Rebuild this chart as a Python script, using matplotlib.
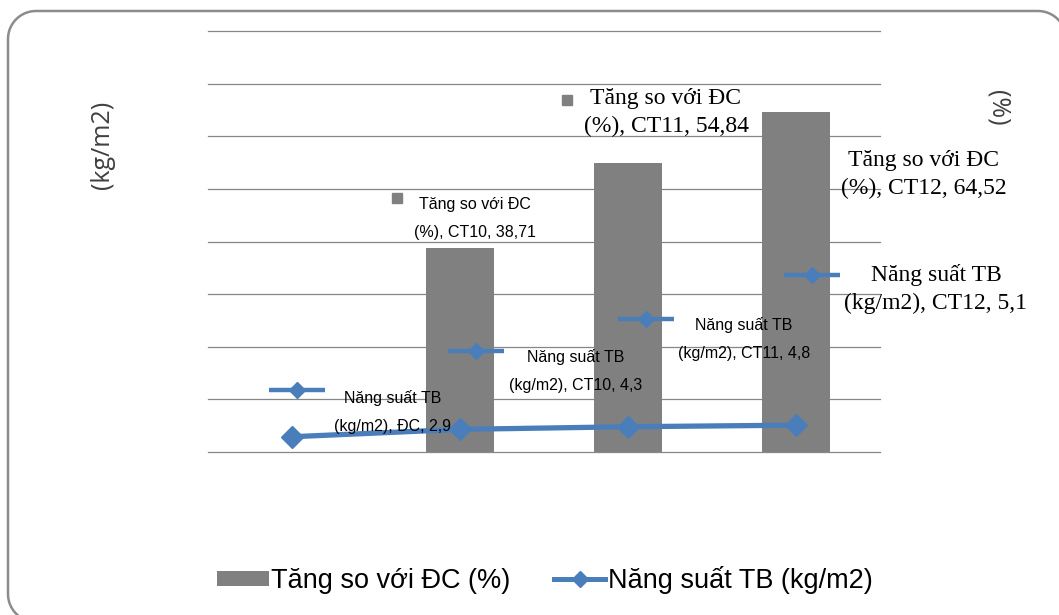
import numpy as np
import matplotlib
matplotlib.use("Agg")
import matplotlib.pyplot as plt
from matplotlib.patches import Patch, PathPatch
from matplotlib.path import Path
from matplotlib.lines import Line2D
from matplotlib.transforms import offset_copy, IdentityTransform

# data
categories = ['ĐC', 'CT10', 'CT11', 'CT12']
tang_so_voi_dc = [0, 38.71, 54.84, 64.52]      # %
nang_suat_tb = [2.9, 4.3, 4.8, 5.1]            # kg/m2
bar_name = 'Tăng so với ĐC (%)'
line_name = 'Năng suất TB (kg/m2)'

BAR_C = '#808080'
LINE_C = '#4A7EBB'
GRID_C = '#878787'

W, H = 1059, 615
fig = plt.figure(figsize=(W / 100, H / 100), dpi=100)
ax = fig.add_axes([208 / W, 163 / H, 672 / W, 421 / H])

x = np.arange(len(categories))
bars = ax.bar(x[1:], tang_so_voi_dc[1:], width=0.4, color=BAR_C, zorder=2)
ax.plot(x, nang_suat_tb, color=LINE_C, lw=3.8, marker='D', ms=11.5,
        mfc=LINE_C, mec=LINE_C, zorder=4, solid_capstyle='round')

ax.set_xlim(-0.5, 3.5)
ax.set_ylim(0, 80)
ax.set_yticks(np.arange(0, 81, 10))
ax.grid(axis='y', color=GRID_C, lw=0.9)
for gl in ax.get_ygridlines():
    gl.set_clip_on(False)
ax.set_axisbelow(True)
ax.tick_params(left=False, bottom=False, labelleft=False, labelbottom=False)
for s in ax.spines.values():
    s.set_visible(False)

def fmt(v):
    return ('%g' % v).replace('.', ',')

SANS = 'Liberation Sans'
SERIF = 'Liberation Serif'

# label layout: (key dx, key dy, text dx, text dy, font) in pixels from the point
bar_lbl = {1: (-63, 50, 15, 30, SANS), 2: (-61, 63, 38, 51, SERIF), 3: (8, -50, 128, -62, SERIF)}
line_lbl = {0: (5, 47, 101, 25, SANS), 1: (16, 78, 116, 58, SANS),
            2: (18, 108, 116, 88, SANS), 3: (16, 150, 140, 136, SERIF)}

for i, (kdx, kdy, tdx, tdy, fam) in bar_lbl.items():
    v = tang_so_voi_dc[i]
    tr = offset_copy(ax.transData, fig, x=kdx, y=kdy, units='dots')
    ax.plot([x[i]], [v], transform=tr, marker='s', ms=7.5, color=BAR_C, zorder=5, clip_on=False)
    big = fam == SERIF
    ax.annotate('Tăng so với ĐC\n(%%), %s, %s' % (categories[i], fmt(v)), (x[i], v),
                xytext=(tdx, tdy), textcoords='offset pixels', ha='center', va='center',
                fontsize=17 if big else 11.5, family=fam, linespacing=1.45 if big else 2.1,
                color='black', zorder=6, annotation_clip=False)

for i, (kdx, kdy, tdx, tdy, fam) in line_lbl.items():
    v = nang_suat_tb[i]
    tr = offset_copy(ax.transData, fig, x=kdx, y=kdy, units='dots')
    ax.plot([x[i]], [v], transform=tr, marker='_', ms=40, mew=3.2, color=LINE_C, zorder=5, clip_on=False)
    ax.plot([x[i]], [v], transform=tr, marker='D', ms=8.5, color=LINE_C, zorder=5, clip_on=False)
    big = fam == SERIF
    ax.annotate('Năng suất TB\n(kg/m2), %s, %s' % (categories[i], fmt(v)), (x[i], v),
                xytext=(tdx, tdy), textcoords='offset pixels', ha='center', va='center',
                fontsize=17 if big else 11.5, family=fam, linespacing=1.45 if big else 2.1,
                color='black', zorder=6, annotation_clip=False)

# axis titles
fig.text(103 / W, 1 - 145 / H, '(kg/m2)', rotation=90, ha='center', va='center',
         fontsize=18, family='Open Sans', color='#404040')
fig.text(998 / W, 1 - 108 / H, '(%)', rotation=270, ha='center', va='center',
         fontsize=18, family='Open Sans', color='#404040')

handles = [Patch(facecolor=BAR_C, edgecolor='none'),
           Line2D([], [], color=LINE_C, lw=3.6, marker='D', ms=8)]
fig.legend(handles, [bar_name, line_name], loc='center', bbox_to_anchor=(545 / W, 35 / H),
           ncol=2, frameon=False, prop={'family': SANS, 'size': 19.5},
           handlelength=1.9, handleheight=0.5, handletextpad=0.1, columnspacing=1.6)

# rounded chart border in pixels; right and bottom edges run off the image
r = 28
x0, x1, y1, yb = 8, 1066, 604, -7
t = np.linspace(0, np.pi / 2, 20)
pts = list(zip(x0 + r - r * np.sin(t), yb + r - r * np.cos(t)))          # bottom-left
pts += list(zip(x0 + r - r * np.cos(t), y1 - r + r * np.sin(t)))         # top-left
pts += list(zip(x1 - r + r * np.sin(t), y1 - r + r * np.cos(t)))         # top-right
pts += [(x1, yb - 20)]
border = PathPatch(Path(pts), transform=IdentityTransform(), fill=False,
                   ec='#8C8C8C', lw=1.8)
fig.patches.append(border)

fig.savefig('out.png', dpi=100)
